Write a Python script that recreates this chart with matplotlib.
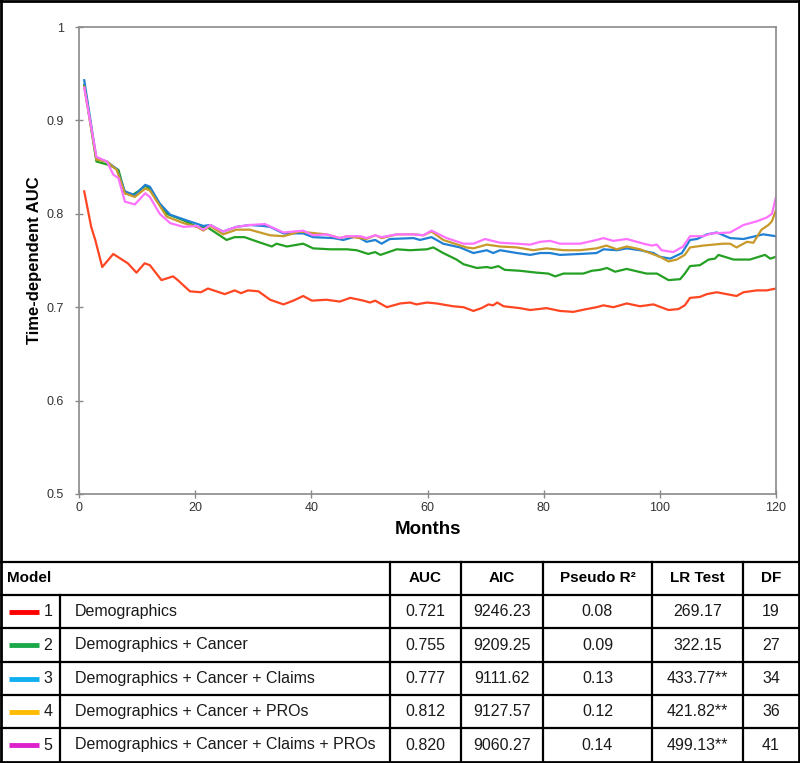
import matplotlib
matplotlib.use("Agg")
import matplotlib.pyplot as plt
from matplotlib.lines import Line2D

plt.rcParams['font.family'] = ['Liberation Sans', 'DejaVu Sans']

# Time-dependent AUC curves (month, AUC)
red_m = [0.9, 2.1, 2.8, 4.0, 5.9, 8.4, 9.9, 11.3, 12.2, 14.2,
         16.2, 17, 19.1, 21, 22.2, 25.1, 26.8, 27.9, 29.1, 30.9,
         32.9, 35.2, 36.9, 38.6, 40.1, 42.6, 44.9, 46.7, 49, 50.1,
         51, 53, 55.3, 57, 58.1, 59.9, 61.6, 64.4, 66.2, 67.9,
         69.3, 70.5, 71.3, 72, 73.1, 75.9, 77.7, 80.5, 82.8, 85.1,
         87.4, 89.1, 90.3, 92, 94.3, 96.6, 98.9, 101.5, 103.2, 104.3,
         105.2, 106.9, 108.1, 109.8, 111.5, 113.2, 114.4, 116.7, 118.4, 120]
red_v = [.824, .786, .772, .743, .757, .747, .737, .747, .745, .729,
         .733, .729, .717, .716, .720, .714, .718, .715, .718, .717,
         .708, .703, .707, .712, .707, .708, .706, .710, .707, .705,
         .707, .700, .704, .705, .703, .705, .704, .701, .700, .696,
         .699, .703, .702, .705, .701, .699, .697, .699, .696, .695,
         .698, .700, .702, .700, .704, .701, .703, .697, .698, .702,
         .710, .711, .714, .716, .714, .712, .716, .718, .718, .720]

green_m = [0.9, 3.0, 5.3, 6.8, 7.9, 9.1, 10.2, 11.4, 12.2, 13.4,
           15.1, 18, 20.3, 22, 23.7, 25.4, 26.8, 28.5, 30.8, 33.2,
           34, 35.8, 38.6, 40.3, 43.2, 46.1, 47.8, 49.8, 51, 51.9,
           54.7, 57, 59.9, 61, 62.7, 65, 66.2, 68.5, 70.2, 71,
           72.2, 73.3, 75.9, 78.8, 80.8, 82, 83.4, 86.8, 88.3, 89.7,
           90.9, 92.3, 94.3, 97.7, 99.5, 101.5, 103.5, 104.3, 105.2, 106.9,
           108.4, 109.5, 110.1, 112.7, 115.5, 118.1, 119, 120]
green_v = [.938, .856, .852, .847, .822, .820, .824, .830, .827, .815,
           .800, .793, .786, .786, .779, .772, .775, .775, .770, .765,
           .768, .765, .768, .763, .762, .762, .761, .757, .759, .756,
           .762, .761, .762, .764, .758, .751, .746, .742, .743, .742,
           .744, .740, .739, .737, .736, .733, .736, .736, .739, .740,
           .742, .738, .741, .736, .736, .729, .730, .736, .744, .745,
           .751, .752, .756, .751, .751, .756, .752, .754]

blue_m = [0.9, 3.0, 4.8, 6.5, 7.9, 9.6, 11.4, 12.2, 13.9, 15.7,
          18.5, 21.4, 22.6, 24.8, 27.1, 29.4, 31.7, 32.9, 35.2, 38.6,
          40.3, 43.8, 45.5, 47.8, 49.5, 51, 52.1, 53.5, 57.6, 58.7,
          60.7, 62.7, 65.6, 67.9, 70.2, 71.3, 72.5, 75.4, 77.7, 79.4,
          81.1, 82.8, 86.3, 89.1, 90.3, 92.6, 94.3, 96.6, 98.9, 100,
          101.8, 103.8, 104.6, 105.2, 106.4, 108.1, 109.8, 112.1, 114.4, 117.8, 120]
blue_v = [.943, .859, .856, .848, .824, .820, .831, .829, .811, .799,
          .793, .787, .788, .781, .786, .788, .787, .786, .779, .779,
          .775, .774, .772, .776, .770, .772, .768, .773, .774, .772,
          .775, .768, .764, .758, .761, .758, .761, .758, .756, .758,
          .758, .756, .757, .758, .762, .761, .763, .761, .758, .754,
          .752, .758, .766, .772, .773, .778, .780, .774, .773, .778, .776]

gold_m = [0.9, 3.0, 4.8, 6.5, 7.9, 9.6, 11.4, 12.2, 15.1, 18,
          20.3, 21.4, 22.6, 24.8, 27.1, 29.4, 32.9, 35.2, 38, 40.9,
          42.6, 44.9, 46.1, 49.5, 51, 52.1, 54.7, 57.6, 59.3, 60.7,
          62.7, 66.7, 67.9, 70.2, 72.5, 75.4, 78.2, 80.5, 83.4, 86.3,
          89.1, 90.8, 92.6, 94.3, 96.6, 98.3, 100, 101.5, 102.9, 104.3,
          105.2, 107.5, 110.9, 112.1, 113.2, 115, 116.1, 117.5, 118.7, 119.3, 120]
gold_v = [.936, .858, .856, .847, .822, .818, .827, .825, .797, .790,
          .786, .782, .787, .778, .783, .783, .777, .776, .781, .779,
          .778, .774, .776, .773, .777, .774, .778, .778, .777, .781,
          .772, .764, .763, .767, .765, .764, .761, .763, .761, .761,
          .763, .766, .762, .765, .762, .758, .754, .749, .751, .756,
          .764, .766, .768, .768, .764, .770, .769, .783, .788, .792, .804]

pink_m = [0.9, 3.0, 4.8, 5.9, 6.8, 7.9, 9.6, 11.4, 12.2, 13.9,
          15.7, 18, 20.3, 21.4, 22.6, 24.8, 27.1, 29.4, 32, 35.2,
          38.6, 40.3, 42.6, 44.9, 46.1, 48.4, 49.5, 51, 52.1, 54.7,
          57.6, 59.3, 60.7, 63.3, 66.2, 67.9, 69.9, 72.5, 75.4, 77.7,
          79.4, 81.1, 82.8, 86.3, 89.1, 90.3, 92, 94.3, 97.2, 98.6,
          99.5, 100.3, 102.3, 104, 105.2, 107.5, 108.9, 112.1, 114.4, 116.7,
          118.4, 119.3, 120]
pink_v = [.935, .861, .856, .842, .838, .813, .810, .822, .818, .800,
          .790, .786, .787, .783, .788, .781, .786, .788, .789, .780,
          .782, .777, .778, .774, .776, .776, .774, .777, .775, .778,
          .778, .777, .782, .774, .768, .768, .773, .769, .768, .767,
          .770, .771, .768, .768, .772, .774, .771, .773, .768, .766,
          .767, .761, .759, .765, .776, .776, .779, .780, .788, .792,
          .796, .800, .818]

# Table content
model_ids = ['1', '2', '3', '4', '5']
model_names = ['Demographics', 'Demographics + Cancer', 'Demographics + Cancer + Claims',
               'Demographics + Cancer + PROs', 'Demographics + Cancer + Claims + PROs']
auc = ['0.721', '0.755', '0.777', '0.812', '0.820']
aic = ['9246.23', '9209.25', '9111.62', '9127.57', '9060.27']
pseudo_r2 = ['0.08', '0.09', '0.13', '0.12', '0.14']
lr_test = ['269.17', '322.15', '433.77**', '421.82**', '499.13**']
dof = ['19', '27', '34', '36', '41']

curve_colors = ['#ff4622', '#24a024', '#2080d4', '#c89a2a', '#ff72ff']
swatch_colors = ['#ff0000', '#1aa84a', '#10b0f0', '#ffbb00', '#dd22cc']

W, H = 800, 763
fig = plt.figure(figsize=(W / 100, H / 100), dpi=100)

# pixel helpers (origin top-left)
def fx(px):
    return px / W

def fy(py):
    return 1 - py / H

ax = fig.add_axes([fx(79), fy(494), fx(776) - fx(79), fy(27) - fy(494)])
series = [(red_m, red_v), (green_m, green_v), (blue_m, blue_v), (gold_m, gold_v), (pink_m, pink_v)]
for (m, v), c in zip(series, curve_colors):
    ax.plot(m, v, color=c, lw=1.6, solid_joinstyle='round')

ax.set_xlim(0, 120)
ax.set_ylim(0.5, 1.0)
ax.set_xticks(range(0, 121, 20))
ax.set_yticks([0.5, 0.6, 0.7, 0.8, 0.9, 1.0])
ax.set_yticklabels(['0.5', '0.6', '0.7', '0.8', '0.9', '1'])
for s in ax.spines.values():
    s.set_color('#8a8a8a')
    s.set_linewidth(1.2)
ax.tick_params(axis='both', colors='#8a8a8a', labelcolor='#333333', labelsize=9,
               direction='inout', length=6, width=1)
ax.tick_params(axis='y', pad=8)
ax.tick_params(axis='x', pad=3)
ax.set_xlabel('Months', fontsize=13.5, fontweight='bold', labelpad=5)
ax.set_ylabel('Time-dependent AUC', fontsize=12, fontweight='bold', labelpad=3)

# outer frame and table grid
def hline(y, x0, x1, lw=1.6):
    fig.add_artist(Line2D([fx(x0), fx(x1)], [fy(y), fy(y)], color='black', lw=lw))

def vline(x, y0, y1, lw=1.6):
    fig.add_artist(Line2D([fx(x), fx(x)], [fy(y0), fy(y1)], color='black', lw=lw))

hline(1, 1, 799, 2)
hline(762, 1, 799, 2)
vline(1, 1, 762, 2)
vline(799, 1, 762, 2)

table_top = 562
row_lines = [595, 628, 662, 695, 728]
for y in [table_top] + row_lines:
    hline(y, 1, 799)
vline(60, 595, 762)
col_edges = [390, 461, 543, 652, 743, 799]
for x in col_edges[:-1]:
    vline(x, table_top, 762)

headers = ['AUC', 'AIC', 'Pseudo R²', 'LR Test', 'DF']
hdr_y = (table_top + row_lines[0]) / 2
fig.text(fx(7), fy(hdr_y), 'Model', fontsize=11, fontweight='bold', va='center', ha='left')
for i, h in enumerate(headers):
    cx = (col_edges[i] + col_edges[i + 1]) / 2
    fig.text(fx(cx), fy(hdr_y), h, fontsize=11, fontweight='bold', va='center', ha='center')

row_bounds = row_lines + [762]
for r in range(5):
    cy = (row_bounds[r] + row_bounds[r + 1]) / 2
    fig.add_artist(Line2D([fx(9), fx(39)], [fy(cy), fy(cy)], color=swatch_colors[r], lw=3.5,
                          solid_capstyle='butt'))
    fig.text(fx(48), fy(cy), model_ids[r], fontsize=11.5, va='center', ha='center', color='#1a1a1a')
    fig.text(fx(75), fy(cy), model_names[r], fontsize=11.5, va='center', ha='left', color='#1a1a1a')
    vals = [auc[r], aic[r], pseudo_r2[r], lr_test[r], dof[r]]
    for i, v in enumerate(vals):
        cx = (col_edges[i] + col_edges[i + 1]) / 2
        fig.text(fx(cx), fy(cy), v, fontsize=11.5, va='center', ha='center', color='#1a1a1a')

fig.savefig('out.png', dpi=100)
